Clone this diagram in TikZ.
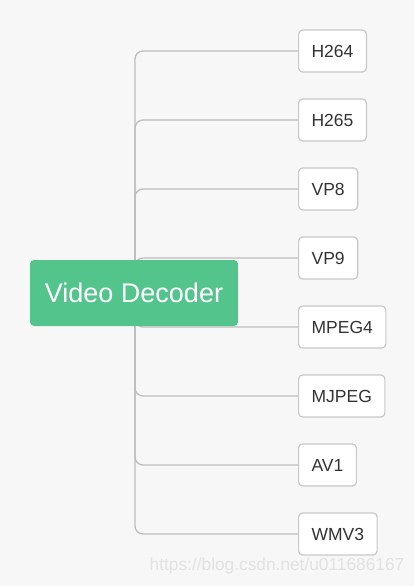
\documentclass[tikz,border=0pt]{standalone}
\usepackage{fontspec}
\setmainfont{Liberation Sans}
\usetikzlibrary{positioning}
\definecolor{pagegray}{HTML}{F7F7F7}
\definecolor{rootgreen}{HTML}{52C48C}
\definecolor{linegray}{HTML}{BDBDBD}
\definecolor{boxgray}{HTML}{C8C8C8}
\definecolor{textgray}{HTML}{333333}
\definecolor{markgray}{HTML}{E2E2E2}
\pgfdeclarelayer{bg}
\pgfdeclarelayer{lines}
\pgfsetlayers{bg,lines,main}
\begin{document}
\begin{tikzpicture}[
		x=1pt, y=-1pt,
		font=\fontsize{17.5}{21}\selectfont
	]
	\tikzset{
		rootnode/.style = {rectangle, rounded corners=4pt, fill=rootgreen, text=white,
			minimum width=208pt, minimum height=66pt, font=\fontsize{27}{31}\selectfont},
		leafnode/.style = {rectangle, rounded corners=4pt, draw=boxgray, line width=1.2pt,
			fill=white, text=textgray, anchor=west, inner xsep=13pt, minimum height=42pt},
		branch/.style = {draw=linegray, line width=1.3pt, rounded corners=8pt},
	}
	\useasboundingbox (0,0) rectangle (414,586);
	\begin{pgfonlayer}{bg}
		\fill[pagegray] (0,0) rectangle (414,586);
	\end{pgfonlayer}
		\node[rootnode] at (134,293) (root) {Video Decoder};
		%
		\node[leafnode] at (298,51) (h264) {H264};
		\node[leafnode] at (298,120) (h265) {H265};
		\node[leafnode] at (298,189) (vp8) {VP8};
		\node[leafnode] at (298,258) (vp9) {VP9};
		\node[leafnode] at (298,327) (mpeg4) {MPEG4};
		\node[leafnode] at (298,396) (mjpeg) {MJPEG};
		\node[leafnode] at (298,465) (av1) {AV1};
		\node[leafnode] at (298,534) (wmv3) {WMV3};
		%
		\begin{pgfonlayer}{lines}
		\foreach \leaf in {h264,h265,vp8,vp9,mpeg4,mjpeg,av1,wmv3}
			\draw[branch] ([xshift=1pt]root.center) |- (\leaf.west);
		\end{pgfonlayer}
		%
		\node[text=markgray, font=\fontsize{17.3}{20}\selectfont] at (277,566) (mark) {https://blog.csdn.net/u011686167};
	\end{tikzpicture}
\end{document}
